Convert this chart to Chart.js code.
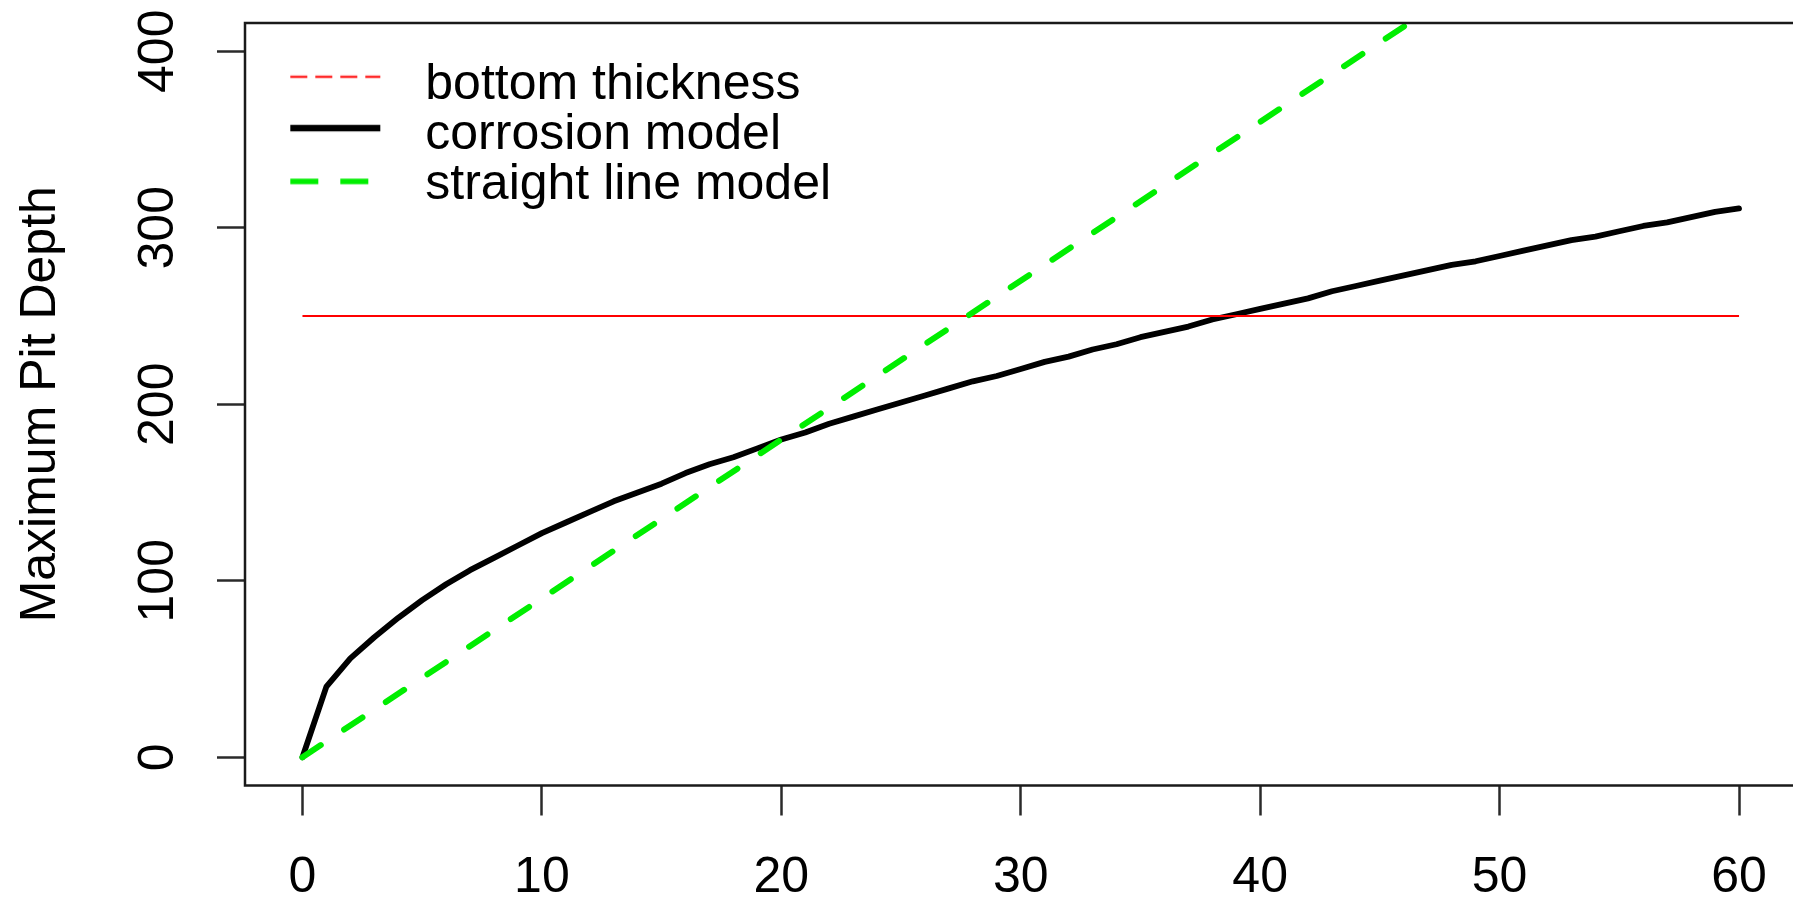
<!DOCTYPE html>
<html>
<head>
<meta charset="utf-8">
<script src="https://cdn.jsdelivr.net/npm/chart.js@4.4.1/dist/chart.umd.min.js"></script>
<style>
html,body{margin:0;padding:0;overflow:hidden;background:#ffffff}
#wrap{width:1800px;height:903px;position:relative}
</style>
</head>
<body>
<div id="wrap"><canvas id="c" width="1800" height="903"></canvas></div>
<script>
// ---- data ----
const years = [0,1,2,3,4,5,6,7,8,9,10,11,12,13,14,15,16,17,18,19,20,
  21,22,23,24,25,26,27,28,29,30,31,32,33,34,35,36,37,38,39,40,
  41,42,43,44,45,46,47,48,49,50,51,52,53,54,55,56,57,58,59,60];
const corrosionDepth = [0,40,56,68,79,89,98,106,113,120,127,133,139,145,150,155,161,166,170,175,180,
  184,189,193,197,201,205,209,213,216,220,224,227,231,234,238,241,244,248,251,254,
  257,260,264,267,270,273,276,279,281,284,287,290,293,295,298,301,303,306,309,311];
const straightYears = [0, 60];
const straightDepth = [0, 540];
const thicknessYears = [0, 60];
const thicknessDepth = [250, 250];
const xTicks = [0, 10, 20, 30, 40, 50, 60];
const yTicks = [0, 100, 200, 300, 400];
const seriesNames = ['bottom thickness', 'corrosion model', 'straight line model'];
const yTitle = 'Maximum Pit Depth';

const FONT = "'Liberation Sans', Arial, sans-serif";
Chart.defaults.font.family = FONT;
Chart.defaults.color = '#000';

const toXY = (xs, ys) => xs.map((x, i) => ({x: x, y: ys[i]}));

// legend line samples (R style: line sample then text)
function sample(color, width, dash, dy) {
  const c = document.createElement('canvas');
  c.width = 153; c.height = 30;
  const g = c.getContext('2d');
  g.strokeStyle = color; g.lineWidth = width; g.setLineDash(dash); g.lineCap = 'butt';
  g.beginPath(); g.moveTo(43, 15 + dy); g.lineTo(133, 15 + dy); g.stroke();
  return c;
}
const samples = [
  sample('#ff2a2a', 2.5, [17, 8], -8),
  sample('#000000', 6.5, [], -7),
  sample('#00ee00', 5.5, [28, 22], -4)
];

const frame = {
  id: 'frame',
  afterDatasetsDraw(chart) {
    const a = chart.chartArea, ctx = chart.ctx;
    ctx.save();
    ctx.strokeStyle = '#1a1a1a';
    ctx.lineWidth = 2.5;
    ctx.strokeRect(a.left, a.top, a.right - a.left, a.bottom - a.top);
    ctx.restore();
  }
};
const legendPlace = {
  id: 'legendPlace',
  afterLayout(chart) {
    const lg = chart.legend;
    if (!lg) return;
    lg.left = chart.chartArea.left + 2;
    lg.top = chart.chartArea.top + 36.5;
  }
};

new Chart(document.getElementById('c'), {
  type: 'line',
  data: {
    datasets: [
      {label: seriesNames[0], data: toXY(thicknessYears, thicknessDepth), borderColor: '#ff0000',
       borderWidth: 2.2, pointRadius: 0, tension: 0, order: 1},
      {label: seriesNames[1], data: toXY(years, corrosionDepth), borderColor: '#000000',
       borderWidth: 5.8, pointRadius: 0, tension: 0, borderJoinStyle: 'round', borderCapStyle: 'round', order: 2},
      {label: seriesNames[2], data: toXY(straightYears, straightDepth), borderColor: '#00ee00',
       borderWidth: 6, pointRadius: 0, tension: 0, borderDash: [22, 28], borderCapStyle: 'round', order: 0}
    ]
  },
  options: {
    responsive: false,
    animation: false,
    devicePixelRatio: 1,
    events: [],
    layout: {padding: {top: 23, right: 3.5, left: 11, bottom: 0}},
    plugins: {
      tooltip: {enabled: false},
      legend: {
        position: 'chartArea',
        align: 'start',
        labels: {
          usePointStyle: true,
          pointStyleWidth: 153,
          padding: 0.3,
          color: '#000',
          font: {family: FONT, size: 50},
          generateLabels: (chart) => chart.data.datasets.map((ds, i) => ({
            text: ds.label, pointStyle: samples[i], datasetIndex: i, hidden: false,
            lineWidth: 0, fillStyle: 'rgba(0,0,0,0)', strokeStyle: 'rgba(0,0,0,0)', fontColor: '#000'
          }))
        }
      }
    },
    scales: {
      x: {
        type: 'linear',
        min: -2.4, max: 62.4,
        afterBuildTicks: (s) => { s.ticks = xTicks.map(v => ({value: v})); },
        afterFit: (s) => { s.height = 117.5; s.paddingLeft = 0; s.paddingRight = 0; },
        border: {display: false},
        grid: {drawOnChartArea: false, drawTicks: true, tickLength: 30, tickWidth: 2.5, tickColor: '#2a2a2a'},
        ticks: {autoSkip: false, maxRotation: 0, minRotation: 0, padding: 33, color: '#000',
                font: {family: FONT, size: 50}}
      },
      y: {
        type: 'linear',
        min: -16, max: 416,
        afterBuildTicks: (s) => { s.ticks = yTicks.map(v => ({value: v})); },
        afterFit: (s) => { s.width = 234; s.paddingTop = 0; s.paddingBottom = 0; },
        border: {display: false},
        grid: {drawOnChartArea: false, drawTicks: true, tickLength: 28, tickWidth: 2.5, tickColor: '#2a2a2a'},
        ticks: {autoSkip: false, minRotation: 90, maxRotation: 90, crossAlign: 'center', padding: 16,
                color: '#000', font: {family: FONT, size: 50}},
        title: {display: true, text: yTitle, color: '#000', padding: 0,
                font: {family: FONT, size: 50, lineHeight: 1.2}}
      }
    }
  },
  plugins: [frame, legendPlace]
});
</script>
</body>
</html>
